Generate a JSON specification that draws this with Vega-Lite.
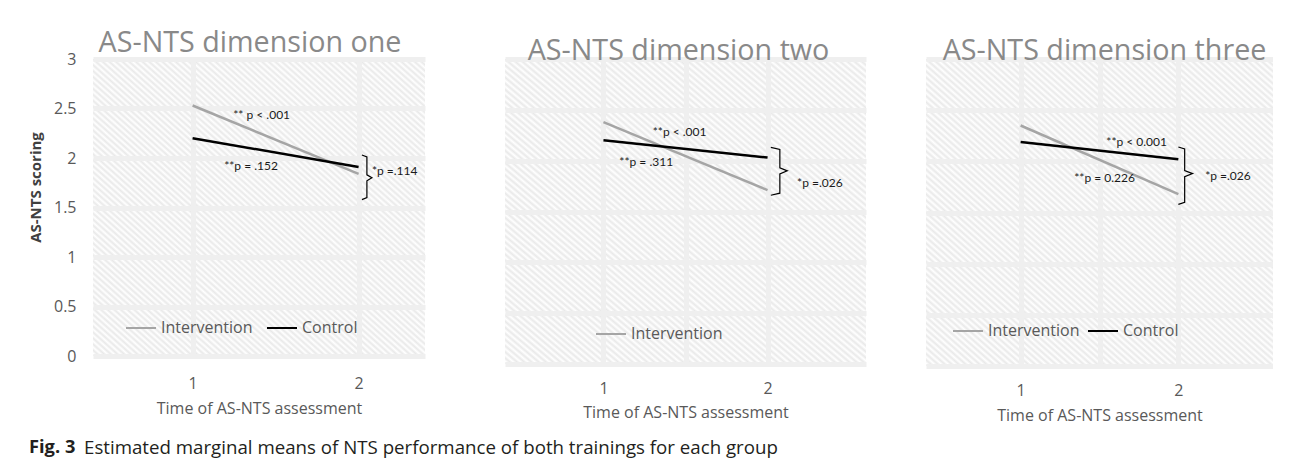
{
  "$schema": "https://vega.github.io/schema/vega-lite/v6.json",
  "padding": {"left": 28, "top": 29, "right": 0, "bottom": 0},
  "background": "white",
  "datasets": {
    "d1": [
      {"group": "Intervention", "time": 1, "score": 2.53},
      {"group": "Intervention", "time": 2, "score": 1.84},
      {"group": "Control", "time": 1, "score": 2.20},
      {"group": "Control", "time": 2, "score": 1.91}
    ],
    "d2": [
      {"group": "Intervention", "time": 1, "score": 2.38},
      {"group": "Intervention", "time": 2, "score": 1.71},
      {"group": "Control", "time": 1, "score": 2.20},
      {"group": "Control", "time": 2, "score": 2.03}
    ],
    "d3": [
      {"group": "Intervention", "time": 1, "score": 2.35},
      {"group": "Intervention", "time": 2, "score": 1.68},
      {"group": "Control", "time": 1, "score": 2.19},
      {"group": "Control", "time": 2, "score": 2.02}
    ],
    "b1": [
      {"k": 1, "time": 2.02, "score": 2.03},
      {"k": 2, "time": 2.05, "score": 2.01},
      {"k": 3, "time": 2.05, "score": 1.83},
      {"k": 4, "time": 2.08, "score": 1.80},
      {"k": 5, "time": 2.05, "score": 1.77},
      {"k": 6, "time": 2.05, "score": 1.60},
      {"k": 7, "time": 2.02, "score": 1.58}
    ],
    "b2": [
      {"k": 1, "time": 2.02, "score": 2.13},
      {"k": 2, "time": 2.075, "score": 2.11},
      {"k": 3, "time": 2.075, "score": 1.93},
      {"k": 4, "time": 2.12, "score": 1.90},
      {"k": 5, "time": 2.075, "score": 1.87},
      {"k": 6, "time": 2.075, "score": 1.68},
      {"k": 7, "time": 2.02, "score": 1.66}
    ],
    "b3": [
      {"k": 1, "time": 2.0, "score": 2.14},
      {"k": 2, "time": 2.04, "score": 2.12},
      {"k": 3, "time": 2.04, "score": 1.91},
      {"k": 4, "time": 2.09, "score": 1.88},
      {"k": 5, "time": 2.04, "score": 1.85},
      {"k": 6, "time": 2.04, "score": 1.60},
      {"k": 7, "time": 2.0, "score": 1.58}
    ],
    "t1": [
      {"time": 1.245, "score": 2.43, "label": "** p < .001"},
      {"time": 1.19, "score": 1.92, "label": "**p = .152"},
      {"time": 2.08, "score": 1.87, "label": "*p =.114"}
    ],
    "t2": [
      {"time": 1.30, "score": 2.28, "label": "**p < .001"},
      {"time": 1.097, "score": 1.99, "label": "**p = .311"},
      {"time": 2.18, "score": 1.78, "label": "*p =.026"}
    ],
    "t3": [
      {"time": 1.543, "score": 2.19, "label": "**p < 0.001"},
      {"time": 1.34, "score": 1.84, "label": "**p = 0.226"},
      {"time": 2.17, "score": 1.86, "label": "*p =.026"}
    ],
    "cap": [
      {"a": "Fig. 3", "b": "Estimated marginal means of NTS performance of both trainings for each group"}
    ]
  },
  "vconcat": [
    {
      "hconcat": [
        {
          "width": 332,
          "height": 297,
          "title": {"text": "AS-NTS dimension one", "dx": -9},
          "layer": [
            {
              "data": {"name": "d1"},
              "mark": {"type": "line", "strokeWidth": 2.5},
              "encoding": {
                "x": {"field": "time", "type": "quantitative", "scale": {"domain": [0.5, 2.3]},
                  "axis": {"values": [1, 1.5, 2], "format": "d", "labelExpr": "datum.value % 1 === 0 ? datum.label : ''", "labelPadding": 19, "title": "Time of AS-NTS assessment", "titlePadding": 9, "grid": true}},
                "y": {"field": "score", "type": "quantitative", "scale": {"domain": [0, 3]},
                  "axis": {"values": [0, 0.5, 1, 1.5, 2, 2.5, 3], "format": "~g", "labelPadding": 17, "title": "AS-NTS scoring", "titleFontWeight": "bold", "titleColor": "#404040", "titleFontSize": 15, "titlePadding": 10, "titleY": 128, "grid": true}},
                "color": {"field": "group", "type": "nominal", "scale": {"domain": ["Intervention", "Control"], "range": ["#a5a5a5", "#000000"]},
                  "legend": {"orient": "none", "legendX": 32, "legendY": 253, "direction": "horizontal", "title": null, "symbolType": "stroke", "symbolSize": 900, "symbolStrokeWidth": 2, "labelFont": "Open Sans", "labelFontSize": 16, "labelColor": "#595959", "labelOffset": 4, "columnPadding": 10}}
              }
            },
            {
              "data": {"name": "b1"},
              "mark": {"type": "line", "color": "#000000", "strokeWidth": 1.2},
              "encoding": {"x": {"field": "time", "type": "quantitative"}, "y": {"field": "score", "type": "quantitative"}, "order": {"field": "k"}}
            },
            {
              "data": {"name": "t1"},
              "mark": {"type": "text", "align": "left", "font": "Lato", "fontSize": 12, "color": "#1a1a1a"},
              "encoding": {"x": {"field": "time", "type": "quantitative"}, "y": {"field": "score", "type": "quantitative"}, "text": {"field": "label"}}
            }
          ]
        },
        {
          "hconcat": [
            {
              "width": 361,
              "height": 305,
              "title": {"text": "AS-NTS dimension two", "dx": -7},
              "layer": [
                {
                  "data": {"name": "d2"},
                  "mark": {"type": "line", "strokeWidth": 2.5},
                  "encoding": {
                    "x": {"field": "time", "type": "quantitative", "scale": {"domain": [0.5, 2.5]},
                      "axis": {"values": [1, 1.5, 2], "format": "d", "labelExpr": "datum.value % 1 === 0 ? datum.label : ''", "labelPadding": 16, "title": "Time of AS-NTS assessment", "titlePadding": 8, "grid": true}},
                    "y": {"field": "score", "type": "quantitative", "scale": {"domain": [0, 3]},
                      "axis": {"values": [0, 0.5, 1, 1.5, 2, 2.5, 3], "labels": false, "title": null, "grid": true}},
                    "color": {"field": "group", "type": "nominal", "scale": {"domain": ["Intervention", "Control"], "range": ["#a5a5a5", "#000000"]},
                      "legend": {"values": ["Intervention"], "orient": "none", "legendX": 90, "legendY": 259, "direction": "horizontal", "title": null, "symbolType": "stroke", "symbolSize": 900, "symbolStrokeWidth": 2, "labelFont": "Open Sans", "labelFontSize": 16, "labelColor": "#595959", "labelOffset": 4}}
                  }
                },
                {
                  "data": {"name": "b2"},
                  "mark": {"type": "line", "color": "#000000", "strokeWidth": 1.2},
                  "encoding": {"x": {"field": "time", "type": "quantitative"}, "y": {"field": "score", "type": "quantitative"}, "order": {"field": "k"}}
                },
                {
                  "data": {"name": "t2"},
                  "mark": {"type": "text", "align": "left", "font": "Lato", "fontSize": 12, "color": "#1a1a1a"},
                  "encoding": {"x": {"field": "time", "type": "quantitative"}, "y": {"field": "score", "type": "quantitative"}, "text": {"field": "label"}}
                }
              ]
            },
            {
              "width": 347,
              "height": 307,
              "title": {"text": "AS-NTS dimension three", "dx": 5},
              "layer": [
                {
                  "data": {"name": "d3"},
                  "mark": {"type": "line", "strokeWidth": 2.5},
                  "encoding": {
                    "x": {"field": "time", "type": "quantitative", "scale": {"domain": [0.5, 2.5]},
                      "axis": {"values": [1, 1.5, 2], "format": "d", "labelExpr": "datum.value % 1 === 0 ? datum.label : ''", "labelPadding": 16, "title": "Time of AS-NTS assessment", "titlePadding": 9, "grid": true}},
                    "y": {"field": "score", "type": "quantitative", "scale": {"domain": [0, 3]},
                      "axis": {"values": [0, 0.5, 1, 1.5, 2, 2.5, 3], "labels": false, "title": null, "grid": true}},
                    "color": {"field": "group", "type": "nominal", "scale": {"domain": ["Intervention", "Control"], "range": ["#a5a5a5", "#000000"]},
                      "legend": {"orient": "none", "legendX": 26, "legendY": 256, "direction": "horizontal", "title": null, "symbolType": "stroke", "symbolSize": 900, "symbolStrokeWidth": 2, "labelFont": "Open Sans", "labelFontSize": 16, "labelColor": "#595959", "labelOffset": 4, "columnPadding": 4}}
                  }
                },
                {
                  "data": {"name": "b3"},
                  "mark": {"type": "line", "color": "#000000", "strokeWidth": 1.2},
                  "encoding": {"x": {"field": "time", "type": "quantitative"}, "y": {"field": "score", "type": "quantitative"}, "order": {"field": "k"}}
                },
                {
                  "data": {"name": "t3"},
                  "mark": {"type": "text", "align": "left", "font": "Lato", "fontSize": 12, "color": "#1a1a1a"},
                  "encoding": {"x": {"field": "time", "type": "quantitative"}, "y": {"field": "score", "type": "quantitative"}, "text": {"field": "label"}}
                }
              ]
            }
          ],
          "spacing": 60,
          "bounds": "flush",
          "resolve": {"scale": {"color": "independent"}}
        }
      ],
      "spacing": 80,
      "bounds": "flush",
      "resolve": {"scale": {"color": "independent"}}
    },
    {
      "data": {"name": "cap"},
      "width": 2,
      "height": 20,
      "view": {"stroke": null, "fill": null},
      "layer": [
        {"mark": {"type": "text", "align": "left", "dx": -65, "font": "Open Sans", "fontSize": 18.3, "fontWeight": "bold", "color": "#231f20"}, "encoding": {"text": {"field": "a"}}},
        {"mark": {"type": "text", "align": "left", "dx": -10, "font": "Open Sans", "fontSize": 18.7, "color": "#231f20"}, "encoding": {"text": {"field": "b"}}}
      ]
    }
  ],
  "spacing": 15,
  "config": {
    "view": {
      "stroke": null,
      "fill": {
        "gradient": "linear", "x1": 0, "y1": 1, "x2": 1, "y2": 0,
        "stops": [
          {"offset": 0, "color": "#e9e9e9"}, {"offset": 0.005, "color": "#ffffff"}, {"offset": 0.01, "color": "#e9e9e9"}, {"offset": 0.015, "color": "#ffffff"},
          {"offset": 0.02, "color": "#e9e9e9"}, {"offset": 0.025, "color": "#ffffff"}, {"offset": 0.03, "color": "#e9e9e9"}, {"offset": 0.035, "color": "#ffffff"},
          {"offset": 0.04, "color": "#e9e9e9"}, {"offset": 0.045, "color": "#ffffff"}, {"offset": 0.05, "color": "#e9e9e9"}, {"offset": 0.055, "color": "#ffffff"},
          {"offset": 0.06, "color": "#e9e9e9"}, {"offset": 0.065, "color": "#ffffff"}, {"offset": 0.07, "color": "#e9e9e9"}, {"offset": 0.075, "color": "#ffffff"},
          {"offset": 0.08, "color": "#e9e9e9"}, {"offset": 0.085, "color": "#ffffff"}, {"offset": 0.09, "color": "#e9e9e9"}, {"offset": 0.095, "color": "#ffffff"},
          {"offset": 0.10, "color": "#e9e9e9"}, {"offset": 0.105, "color": "#ffffff"}, {"offset": 0.11, "color": "#e9e9e9"}, {"offset": 0.115, "color": "#ffffff"},
          {"offset": 0.12, "color": "#e9e9e9"}, {"offset": 0.125, "color": "#ffffff"}, {"offset": 0.13, "color": "#e9e9e9"}, {"offset": 0.135, "color": "#ffffff"},
          {"offset": 0.14, "color": "#e9e9e9"}, {"offset": 0.145, "color": "#ffffff"}, {"offset": 0.15, "color": "#e9e9e9"}, {"offset": 0.155, "color": "#ffffff"},
          {"offset": 0.16, "color": "#e9e9e9"}, {"offset": 0.165, "color": "#ffffff"}, {"offset": 0.17, "color": "#e9e9e9"}, {"offset": 0.175, "color": "#ffffff"},
          {"offset": 0.18, "color": "#e9e9e9"}, {"offset": 0.185, "color": "#ffffff"}, {"offset": 0.19, "color": "#e9e9e9"}, {"offset": 0.195, "color": "#ffffff"},
          {"offset": 0.20, "color": "#e9e9e9"}, {"offset": 0.205, "color": "#ffffff"}, {"offset": 0.21, "color": "#e9e9e9"}, {"offset": 0.215, "color": "#ffffff"},
          {"offset": 0.22, "color": "#e9e9e9"}, {"offset": 0.225, "color": "#ffffff"}, {"offset": 0.23, "color": "#e9e9e9"}, {"offset": 0.235, "color": "#ffffff"},
          {"offset": 0.24, "color": "#e9e9e9"}, {"offset": 0.245, "color": "#ffffff"}, {"offset": 0.25, "color": "#e9e9e9"}, {"offset": 0.255, "color": "#ffffff"},
          {"offset": 0.26, "color": "#e9e9e9"}, {"offset": 0.265, "color": "#ffffff"}, {"offset": 0.27, "color": "#e9e9e9"}, {"offset": 0.275, "color": "#ffffff"},
          {"offset": 0.28, "color": "#e9e9e9"}, {"offset": 0.285, "color": "#ffffff"}, {"offset": 0.29, "color": "#e9e9e9"}, {"offset": 0.295, "color": "#ffffff"},
          {"offset": 0.30, "color": "#e9e9e9"}, {"offset": 0.305, "color": "#ffffff"}, {"offset": 0.31, "color": "#e9e9e9"}, {"offset": 0.315, "color": "#ffffff"},
          {"offset": 0.32, "color": "#e9e9e9"}, {"offset": 0.325, "color": "#ffffff"}, {"offset": 0.33, "color": "#e9e9e9"}, {"offset": 0.335, "color": "#ffffff"},
          {"offset": 0.34, "color": "#e9e9e9"}, {"offset": 0.345, "color": "#ffffff"}, {"offset": 0.35, "color": "#e9e9e9"}, {"offset": 0.355, "color": "#ffffff"},
          {"offset": 0.36, "color": "#e9e9e9"}, {"offset": 0.365, "color": "#ffffff"}, {"offset": 0.37, "color": "#e9e9e9"}, {"offset": 0.375, "color": "#ffffff"},
          {"offset": 0.38, "color": "#e9e9e9"}, {"offset": 0.385, "color": "#ffffff"}, {"offset": 0.39, "color": "#e9e9e9"}, {"offset": 0.395, "color": "#ffffff"},
          {"offset": 0.40, "color": "#e9e9e9"}, {"offset": 0.405, "color": "#ffffff"}, {"offset": 0.41, "color": "#e9e9e9"}, {"offset": 0.415, "color": "#ffffff"},
          {"offset": 0.42, "color": "#e9e9e9"}, {"offset": 0.425, "color": "#ffffff"}, {"offset": 0.43, "color": "#e9e9e9"}, {"offset": 0.435, "color": "#ffffff"},
          {"offset": 0.44, "color": "#e9e9e9"}, {"offset": 0.445, "color": "#ffffff"}, {"offset": 0.45, "color": "#e9e9e9"}, {"offset": 0.455, "color": "#ffffff"},
          {"offset": 0.46, "color": "#e9e9e9"}, {"offset": 0.465, "color": "#ffffff"}, {"offset": 0.47, "color": "#e9e9e9"}, {"offset": 0.475, "color": "#ffffff"},
          {"offset": 0.48, "color": "#e9e9e9"}, {"offset": 0.485, "color": "#ffffff"}, {"offset": 0.49, "color": "#e9e9e9"}, {"offset": 0.495, "color": "#ffffff"},
          {"offset": 0.50, "color": "#e9e9e9"}, {"offset": 0.505, "color": "#ffffff"}, {"offset": 0.51, "color": "#e9e9e9"}, {"offset": 0.515, "color": "#ffffff"},
          {"offset": 0.52, "color": "#e9e9e9"}, {"offset": 0.525, "color": "#ffffff"}, {"offset": 0.53, "color": "#e9e9e9"}, {"offset": 0.535, "color": "#ffffff"},
          {"offset": 0.54, "color": "#e9e9e9"}, {"offset": 0.545, "color": "#ffffff"}, {"offset": 0.55, "color": "#e9e9e9"}, {"offset": 0.555, "color": "#ffffff"},
          {"offset": 0.56, "color": "#e9e9e9"}, {"offset": 0.565, "color": "#ffffff"}, {"offset": 0.57, "color": "#e9e9e9"}, {"offset": 0.575, "color": "#ffffff"},
          {"offset": 0.58, "color": "#e9e9e9"}, {"offset": 0.585, "color": "#ffffff"}, {"offset": 0.59, "color": "#e9e9e9"}, {"offset": 0.595, "color": "#ffffff"},
          {"offset": 0.60, "color": "#e9e9e9"}, {"offset": 0.605, "color": "#ffffff"}, {"offset": 0.61, "color": "#e9e9e9"}, {"offset": 0.615, "color": "#ffffff"},
          {"offset": 0.62, "color": "#e9e9e9"}, {"offset": 0.625, "color": "#ffffff"}, {"offset": 0.63, "color": "#e9e9e9"}, {"offset": 0.635, "color": "#ffffff"},
          {"offset": 0.64, "color": "#e9e9e9"}, {"offset": 0.645, "color": "#ffffff"}, {"offset": 0.65, "color": "#e9e9e9"}, {"offset": 0.655, "color": "#ffffff"},
          {"offset": 0.66, "color": "#e9e9e9"}, {"offset": 0.665, "color": "#ffffff"}, {"offset": 0.67, "color": "#e9e9e9"}, {"offset": 0.675, "color": "#ffffff"},
          {"offset": 0.68, "color": "#e9e9e9"}, {"offset": 0.685, "color": "#ffffff"}, {"offset": 0.69, "color": "#e9e9e9"}, {"offset": 0.695, "color": "#ffffff"},
          {"offset": 0.70, "color": "#e9e9e9"}, {"offset": 0.705, "color": "#ffffff"}, {"offset": 0.71, "color": "#e9e9e9"}, {"offset": 0.715, "color": "#ffffff"},
          {"offset": 0.72, "color": "#e9e9e9"}, {"offset": 0.725, "color": "#ffffff"}, {"offset": 0.73, "color": "#e9e9e9"}, {"offset": 0.735, "color": "#ffffff"},
          {"offset": 0.74, "color": "#e9e9e9"}, {"offset": 0.745, "color": "#ffffff"}, {"offset": 0.75, "color": "#e9e9e9"}, {"offset": 0.755, "color": "#ffffff"},
          {"offset": 0.76, "color": "#e9e9e9"}, {"offset": 0.765, "color": "#ffffff"}, {"offset": 0.77, "color": "#e9e9e9"}, {"offset": 0.775, "color": "#ffffff"},
          {"offset": 0.78, "color": "#e9e9e9"}, {"offset": 0.785, "color": "#ffffff"}, {"offset": 0.79, "color": "#e9e9e9"}, {"offset": 0.795, "color": "#ffffff"},
          {"offset": 0.80, "color": "#e9e9e9"}, {"offset": 0.805, "color": "#ffffff"}, {"offset": 0.81, "color": "#e9e9e9"}, {"offset": 0.815, "color": "#ffffff"},
          {"offset": 0.82, "color": "#e9e9e9"}, {"offset": 0.825, "color": "#ffffff"}, {"offset": 0.83, "color": "#e9e9e9"}, {"offset": 0.835, "color": "#ffffff"},
          {"offset": 0.84, "color": "#e9e9e9"}, {"offset": 0.845, "color": "#ffffff"}, {"offset": 0.85, "color": "#e9e9e9"}, {"offset": 0.855, "color": "#ffffff"},
          {"offset": 0.86, "color": "#e9e9e9"}, {"offset": 0.865, "color": "#ffffff"}, {"offset": 0.87, "color": "#e9e9e9"}, {"offset": 0.875, "color": "#ffffff"},
          {"offset": 0.88, "color": "#e9e9e9"}, {"offset": 0.885, "color": "#ffffff"}, {"offset": 0.89, "color": "#e9e9e9"}, {"offset": 0.895, "color": "#ffffff"},
          {"offset": 0.90, "color": "#e9e9e9"}, {"offset": 0.905, "color": "#ffffff"}, {"offset": 0.91, "color": "#e9e9e9"}, {"offset": 0.915, "color": "#ffffff"},
          {"offset": 0.92, "color": "#e9e9e9"}, {"offset": 0.925, "color": "#ffffff"}, {"offset": 0.93, "color": "#e9e9e9"}, {"offset": 0.935, "color": "#ffffff"},
          {"offset": 0.94, "color": "#e9e9e9"}, {"offset": 0.945, "color": "#ffffff"}, {"offset": 0.95, "color": "#e9e9e9"}, {"offset": 0.955, "color": "#ffffff"},
          {"offset": 0.96, "color": "#e9e9e9"}, {"offset": 0.965, "color": "#ffffff"}, {"offset": 0.97, "color": "#e9e9e9"}, {"offset": 0.975, "color": "#ffffff"},
          {"offset": 0.98, "color": "#e9e9e9"}, {"offset": 0.985, "color": "#ffffff"}, {"offset": 0.99, "color": "#e9e9e9"}, {"offset": 0.995, "color": "#ffffff"},
          {"offset": 1, "color": "#e9e9e9"}
        ]
      }
    },
    "axis": {
      "domain": false,
      "ticks": false,
      "gridColor": "#efefef",
      "gridWidth": 5,
      "labelFont": "Open Sans",
      "labelFontSize": 16,
      "labelColor": "#595959",
      "titleFont": "Open Sans",
      "titleFontSize": 16,
      "titleColor": "#595959",
      "titleFontWeight": "normal"
    },
    "title": {"font": "Open Sans", "fontSize": 28.7, "color": "#898989", "fontWeight": "normal", "anchor": "middle", "offset": -7}
  }
}
